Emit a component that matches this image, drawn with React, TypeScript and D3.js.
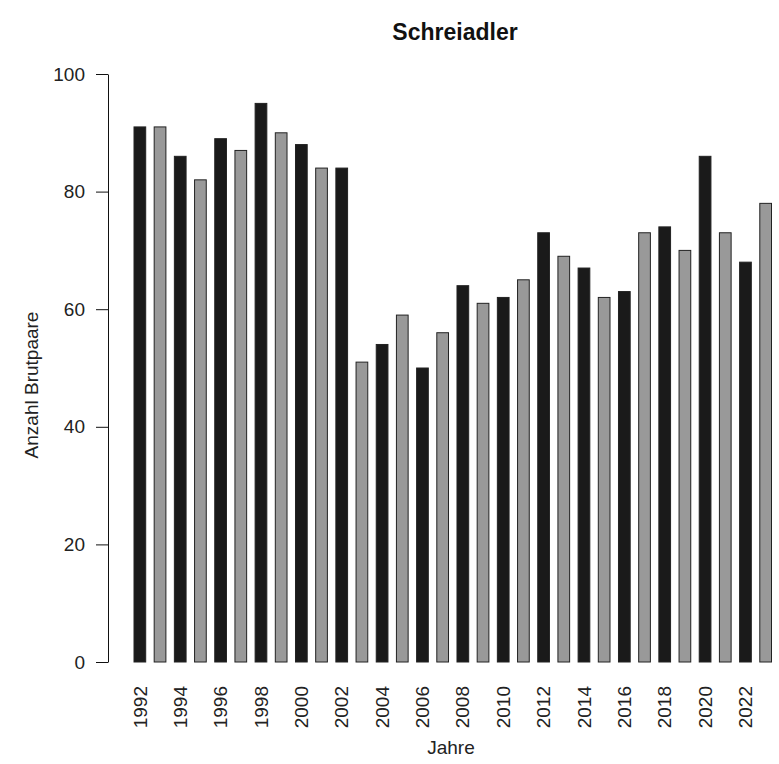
// App.tsx
import React, { useEffect, useRef } from 'react';
import * as d3 from 'd3';

const years = [
  1992, 1993, 1994, 1995, 1996, 1997, 1998, 1999, 2000, 2001, 2002, 2003, 2004, 2005, 2006, 2007,
  2008, 2009, 2010, 2011, 2012, 2013, 2014, 2015, 2016, 2017, 2018, 2019, 2020, 2021, 2022, 2023,
];
const pairs = [
  91, 91, 86, 82, 89, 87, 95, 90, 88, 84, 84, 51, 54, 59, 50, 56,
  64, 61, 62, 65, 73, 69, 67, 62, 63, 73, 74, 70, 86, 73, 68, 78,
];
const barColors = ['#1a1a1a', '#999999'];
const yTicks = [0, 20, 40, 60, 80, 100];
const xLabelYears = years.filter((y) => y % 2 === 0);

const W = 779;
const H = 764;
const FONT = '"Liberation Sans", Arial, sans-serif';
const LABEL_SIZE = 19;

const App: React.FC = () => {
  const svgRef = useRef<SVGSVGElement>(null);

  useEffect(() => {
    if (!svgRef.current) return;
    const svg = d3.select(svgRef.current);
    svg.selectAll('*').remove();

    // scales
    const x = d3
      .scaleBand<number>()
      .domain(years)
      .range([134, 771.5])
      .paddingInner(0.42)
      .paddingOuter(0);
    const y = d3.scaleLinear().domain([0, 100]).range([662, 74]);

    // bars
    svg
      .append('g')
      .selectAll('rect')
      .data(years)
      .join('rect')
      .attr('x', (d) => x(d) || 0)
      .attr('y', (d, i) => y(pairs[i]))
      .attr('width', x.bandwidth())
      .attr('height', (d, i) => y(0) - y(pairs[i]))
      .attr('fill', (d, i) => barColors[i % 2])
      .attr('stroke', '#222')
      .attr('stroke-width', 1);

    // y axis
    const yAxis = svg
      .append('g')
      .attr('transform', 'translate(108,0)')
      .call(d3.axisLeft(y).tickValues(yTicks).tickSize(12).tickPadding(11).tickSizeOuter(0));
    yAxis.select('.domain').attr('stroke', '#111');
    yAxis.selectAll('.tick line').attr('stroke', '#111');
    yAxis
      .selectAll('.tick text')
      .attr('font-family', FONT)
      .attr('font-size', LABEL_SIZE)
      .attr('fill', '#222');

    // x tick labels (rotated)
    svg
      .append('g')
      .selectAll('text')
      .data(xLabelYears)
      .join('text')
      .attr('transform', (d) => `translate(${(x(d) || 0) + x.bandwidth() / 2},686) rotate(-90)`)
      .attr('text-anchor', 'end')
      .attr('dy', '0.35em')
      .attr('font-family', FONT)
      .attr('font-size', LABEL_SIZE)
      .attr('fill', '#222')
      .text((d) => String(d));

    // titles
    svg
      .append('text')
      .attr('x', 455)
      .attr('y', 40)
      .attr('text-anchor', 'middle')
      .attr('font-family', FONT)
      .attr('font-weight', 'bold')
      .attr('font-size', 23)
      .attr('fill', '#111')
      .text('Schreiadler');

    svg
      .append('text')
      .attr('x', 451)
      .attr('y', 754)
      .attr('text-anchor', 'middle')
      .attr('font-family', FONT)
      .attr('font-size', LABEL_SIZE)
      .attr('fill', '#222')
      .text('Jahre');

    svg
      .append('text')
      .attr('transform', 'translate(38,385) rotate(-90)')
      .attr('text-anchor', 'middle')
      .attr('font-family', FONT)
      .attr('font-size', LABEL_SIZE)
      .attr('fill', '#222')
      .text('Anzahl Brutpaare');
  }, []);

  return (
    <svg
      ref={svgRef}
      width={W}
      height={H}
      style={{ position: 'absolute', left: 0, top: 0, background: '#fff' }}
    ></svg>
  );
};

export default App;
